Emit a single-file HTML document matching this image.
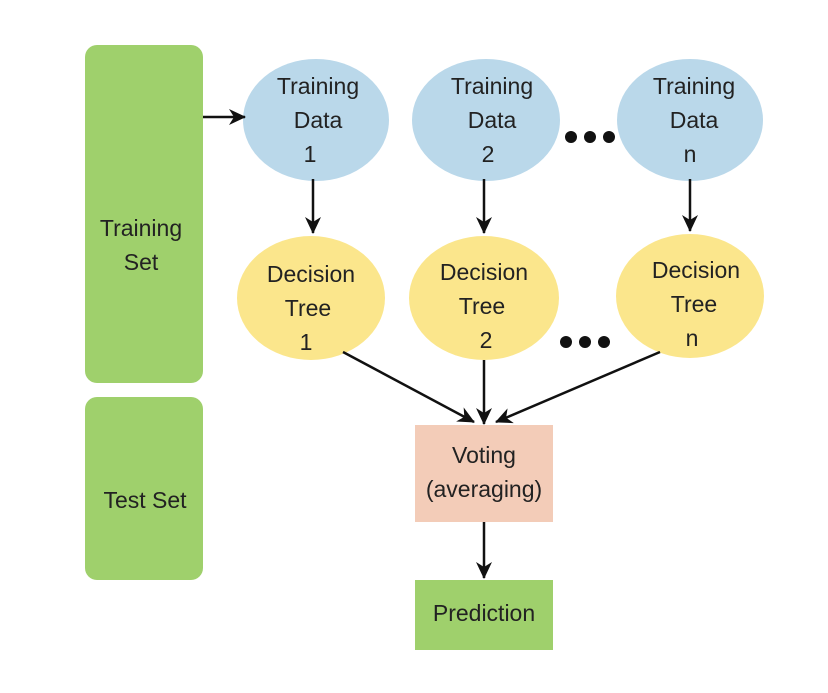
<!DOCTYPE html>
<html><head><style>body{margin:0;background:#fff}</style></head><body>
<svg width="828" height="688" xmlns="http://www.w3.org/2000/svg" font-family="Liberation Sans Narrow, Liberation Sans, sans-serif" font-size="23" fill="#222">
<defs><marker id="a" markerWidth="18" markerHeight="18" refX="16" refY="8" orient="auto" markerUnits="userSpaceOnUse"><path d="M0,0 L17,8 L0,16 L5,8z" fill="#111"/></marker></defs>
<rect x="85" y="45" width="118" height="338" rx="12" fill="#9fd06c"/>
<rect x="85" y="397" width="118" height="183" rx="12" fill="#9fd06c"/>
<text x="141" y="236" text-anchor="middle">Training</text>
<text x="141" y="270" text-anchor="middle">Set</text>
<text x="145" y="508" text-anchor="middle">Test Set</text>
<g fill="#bad8ea">
<ellipse cx="316" cy="120" rx="73" ry="61"/>
<ellipse cx="486" cy="120" rx="74" ry="61"/>
<ellipse cx="690" cy="120" rx="73" ry="61"/>
</g>
<g fill="#fbe68c">
<ellipse cx="311" cy="298" rx="74" ry="62"/>
<ellipse cx="484" cy="298" rx="75" ry="62"/>
<ellipse cx="690" cy="296" rx="74" ry="62"/>
</g>
<rect x="415" y="425" width="138" height="97" fill="#f3ccb8"/>
<rect x="415" y="580" width="138" height="70" fill="#9fd06c"/>
<g text-anchor="middle">
<text x="318" y="94">Training</text><text x="318" y="128">Data</text><text x="310" y="162">1</text>
<text x="492" y="94">Training</text><text x="492" y="128">Data</text><text x="488" y="162">2</text>
<text x="694" y="94">Training</text><text x="694" y="128">Data</text><text x="690" y="162">n</text>
<text x="311" y="282">Decision</text><text x="308" y="316">Tree</text><text x="306" y="350">1</text>
<text x="484" y="280">Decision</text><text x="482" y="314">Tree</text><text x="486" y="348">2</text>
<text x="696" y="278">Decision</text><text x="694" y="312">Tree</text><text x="692" y="346">n</text>
<text x="484" y="463">Voting</text><text x="484" y="497">(averaging)</text>
<text x="484" y="621">Prediction</text>
</g>
<g fill="#111">
<circle cx="571" cy="137" r="6"/><circle cx="590" cy="137" r="6"/><circle cx="609" cy="137" r="6"/>
<circle cx="566" cy="342" r="6"/><circle cx="585" cy="342" r="6"/><circle cx="604" cy="342" r="6"/>
</g>
<g stroke="#111" stroke-width="2.5" marker-end="url(#a)">
<line x1="203" y1="117" x2="245" y2="117"/>
<line x1="313" y1="179" x2="313" y2="233"/>
<line x1="484" y1="179" x2="484" y2="233"/>
<line x1="690" y1="179" x2="690" y2="231"/>
<line x1="343" y1="352" x2="474" y2="422"/>
<line x1="484" y1="360" x2="484" y2="424"/>
<line x1="660" y1="352" x2="496" y2="422"/>
<line x1="484" y1="522" x2="484" y2="578"/>
</g>
</svg>
</body></html>
